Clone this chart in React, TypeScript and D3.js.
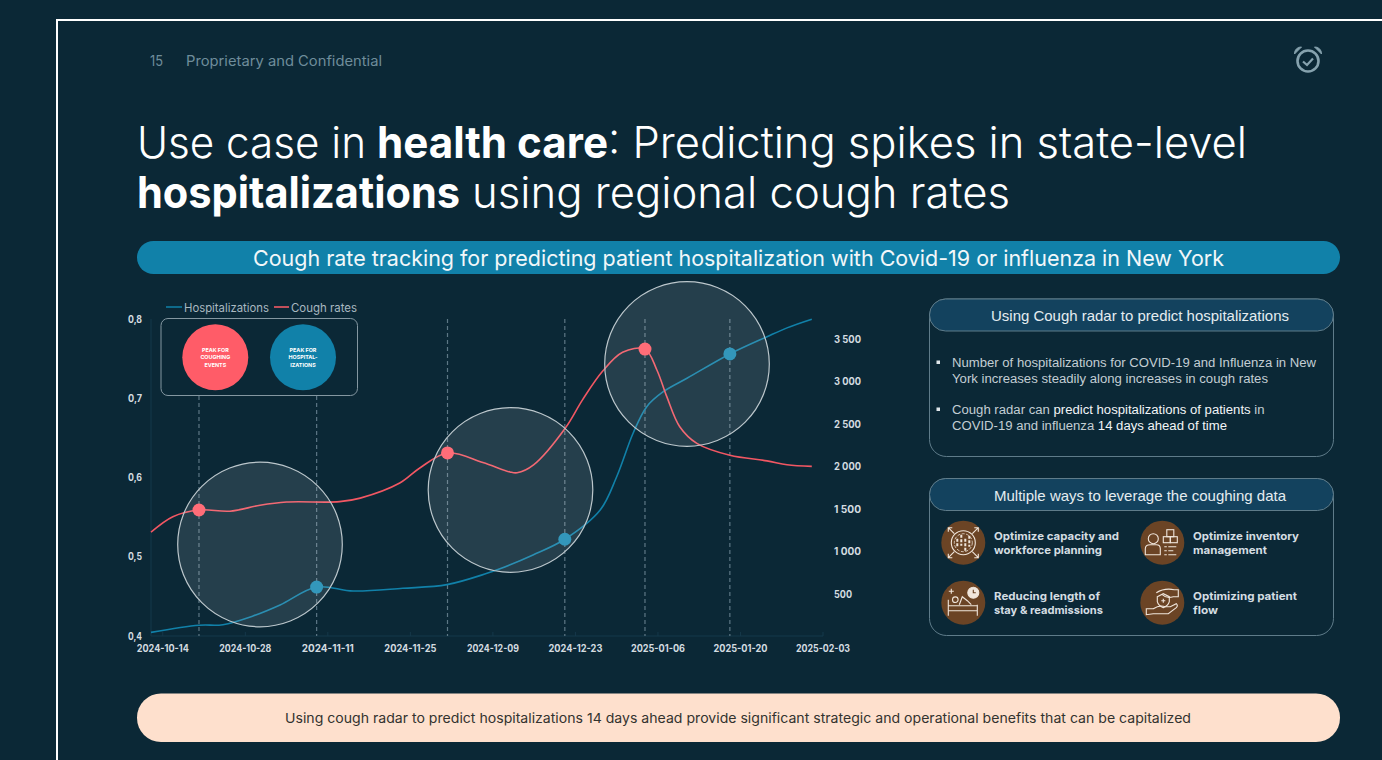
import React from "react";
import * as d3 from "d3";

const START = Date.UTC(2024, 9, 12);
const END = Date.UTC(2025, 1, 3);
const dayToDate = (d: number) => new Date(START + d * 864e5);

const coughDays = [0, 3.7, 8.14, 13.4, 18.5, 23, 32, 35.5, 42.2, 45.6, 50.3, 56.3, 60.9, 62.1, 64.9, 70.3, 73.2, 76.6, 80, 83.8, 85.8, 87.5, 89.7, 92.6, 98.2, 104.5, 107.9, 112.1];
const coughValues = [0.531, 0.5506, 0.559, 0.5575, 0.565, 0.569, 0.5695, 0.574, 0.593, 0.612, 0.631, 0.619, 0.607, 0.606, 0.616, 0.6625, 0.698, 0.734, 0.758, 0.762, 0.736, 0.702, 0.664, 0.643, 0.628, 0.621, 0.616, 0.614];
const hospDays = [0, 8.14, 12.2, 17.3, 21.9, 28.1, 34.3, 42.7, 50.2, 57, 59.2, 64.8, 70.2, 76.2, 79, 81.8, 84.1, 86.9, 91, 98.2, 104.5, 107.9, 112.1];
const hospValues = [43, 126, 133, 235, 365, 576, 529, 561, 604, 737, 790, 953, 1138, 1482, 1874, 2388, 2698, 2874, 3035, 3318, 3521, 3625, 3726];

const coughPeakDays = [8.14, 50.3, 83.8];
const hospPeakDays = [28.1, 70.2, 98.2];
const xTickDays = [2, 16, 30, 44, 58, 72, 86, 100, 114];
const leftTicks = [0.4, 0.5, 0.6, 0.7, 0.8];
const rightTicks = [500, 1000, 1500, 2000, 2500, 3000, 3500];

const benefitLines = [
  ["Optimize capacity and", "workforce planning"],
  ["Optimize inventory", "management"],
  ["Reducing length of", "stay & readmissions"],
  ["Optimizing patient", "flow"],
];

const BG = "#0b2836";
const RED = "#ff5c68";
const BLUE = "#1181a9";
const GEO = "Inter, sans-serif";
const ARIAL = "'Liberation Sans', Arial, sans-serif";

const x = d3.scaleUtc().domain([new Date(START), new Date(END)]).range([151, 823]);
const yL = d3.scaleLinear().domain([0.4, 0.8]).range([636, 319]);
const yR = d3.scaleLinear().domain([0, 3500]).range([636, 338.5]);

const smooth = d3.curveCatmullRom.alpha(0.5);
const coughLine = d3.line<number>().x((d) => x(dayToDate(d))).y((_, i) => yL(coughValues[i])).curve(smooth);
const hospLine = d3.line<number>().x((d) => x(dayToDate(d))).y((_, i) => yR(hospValues[i])).curve(smooth);

const dateFmt = d3.utcFormat("%Y-%m-%d");
const rightFmt = (v: number) => (v >= 1000 ? `${Math.floor(v / 1000)} ${String(v % 1000).padStart(3, "0")}` : `${v}`);

function T({ x, y, len, size, fill = "#fff", weight = 400, family = GEO, anchor, children }: any) {
  return (
    <text x={x} y={y} fontSize={size} fill={fill} fontWeight={weight} fontFamily={family} textAnchor={anchor}
      textLength={len} lengthAdjust={len ? "spacingAndGlyphs" : undefined}>
      {children}
    </text>
  );
}

function Clock({ cx, cy }: any) {
  const c = "#86a2ae";
  return (
    <g transform={`translate(${cx},${cy})`} fill="none" stroke={c}>
      <circle cy={1} r={10.5} strokeWidth={2.6} />
      <path d="M-5,1.5 L-1,5 L5,-1.5" strokeWidth={2.2} />
      <path d="M-13.5,-6 A6.5,6.5 0 0 1 -6.5,-13 Z" fill={c} stroke={c} strokeWidth={1} />
      <path d="M13.5,-6 A6.5,6.5 0 0 0 6.5,-13 Z" fill={c} stroke={c} strokeWidth={1} />
    </g>
  );
}

function IconBase({ cx, cy, children }: any) {
  return (
    <g transform={`translate(${cx},${cy})`}>
      <circle r={22} fill="#6b4425" />
      <g fill="none" stroke="#f0e6dc" strokeWidth={1.1}>{children}</g>
    </g>
  );
}

function Icon0() {
  return (
    <>
      <circle r={12} />
      <circle r={9} strokeDasharray="3 1.5" strokeWidth={0.8} />
      <path d="M-9,-9 L-15,-15 M-15,-11 L-15,-15 L-11,-15 M9,-9 L15,-15 M11,-15 L15,-15 L15,-11 M-9,9 L-15,15 M-15,11 L-15,15 L-11,15 M9,9 L15,15 M11,15 L15,15 L15,11" />
      <path d="M-6,-4 V5 M-2,-8 V3 M2,-4 V8 M6,-7 V4" strokeWidth={2} strokeDasharray="3 1.5" />
    </>
  );
}
function Icon1() {
  return (
    <>
      <circle cx={-9} cy={-4} r={5} />
      <path d="M-17,12 V6 Q-17,2 -12,2 H-6 Q-2,2 -2,6 V12 Z" />
      <rect x={1} y={-6} width={7} height={6} />
      <rect x={8} y={-6} width={7} height={6} />
      <rect x={4.5} y={-13} width={7} height={7} />
      <path d="M2,4 H14 M2,8 H11 M2,12 H14" strokeDasharray="2.5 1.5 9" />
    </>
  );
}
function Icon2() {
  return (
    <>
      <path d="M-15,-3 V13 M14,2 V13 M-15,8 H14 M-15,3 H14" />
      <circle cx={-8} cy={-3} r={2.8} />
      <path d="M-4,2 L-1,-6 L4,-2 L8,2" />
      <circle cx={10} cy={-10} r={5.5} fill="#f0e6dc" />
      <path d="M10,-13 V-10 H12.5" stroke="#6b4425" />
      <path d="M-12,-14 V-9 M-14.5,-11.5 H-9.5" />
    </>
  );
}
function Icon3() {
  return (
    <>
      <path d="M-6,-10 Q2,-15 12,-13 H16 V-6 H11 Q4,-4 0,-8" />
      <path d="M-16,6 H-9 Q-3,2 3,4 H8 L14,1 Q16,3 14,5 L6,11 H-9 L-16,12 Z" />
      <path d="M-5,-6 L1,-9 L7,-6 V-1 Q6,3 1,5 Q-4,3 -5,-1 Z" />
      <path d="M-1,-2 H3 M1,-4 V0" />
    </>
  );
}
const icons = [Icon0, Icon1, Icon2, Icon3];

function Panel({ y, h, title, titleX, titleLen }: any) {
  const X = 929.5, W = 404;
  return (
    <g>
      <rect x={X} y={y} width={W} height={h} rx={17} fill="none" stroke="#5f7c8a" strokeWidth={1} />
      <rect x={X} y={y} width={W} height={32} rx={16} fill="#13425e" stroke="#5f7c8a" strokeWidth={1} />
      <T x={titleX} y={y + 22} len={titleLen} size={14.5} family={ARIAL} fill="#e4ecf0">{title}</T>
    </g>
  );
}

export default function App() {
  const axisC = "#15384a";
  const textC = "#d4dce0";
  const dashC = "#5d7785";
  const circles = [[260, 544.5], [510.5, 490], [687, 364]];
  const cIdx = (d: number) => coughDays.indexOf(d);
  const hIdx = (d: number) => hospDays.indexOf(d);
  const iconPos = [[963.3, 542.7], [1162.3, 542.7], [963.3, 602.7], [1162.3, 602.7]];
  const textPos = [[994, 540], [1193, 540], [994, 600], [1193, 600]];
  const textLens = [[125, 108], [106, 74], [106, 109], [104, 25]];
  const peaks = [...coughPeakDays, ...hospPeakDays];
  return (
    <svg width={1382} height={760} viewBox="0 0 1382 760" style={{ position: "fixed", left: 0, top: 0, display: "block" }}>
      <rect width={1382} height={760} fill={BG} />
      <rect x={57} y={20} width={1400} height={800} fill="none" stroke="#fff" strokeWidth={2} />

      <T x={150} y={66} len={13} size={14} fill="#6f8d9b">15</T>
      <T x={186} y={66} len={196} size={14} fill="#6f8d9b">Proprietary and Confidential</T>
      <Clock cx={1308} cy={60} />

      <T x={137} y={158} len={229} size={44} weight={300}>Use case in</T>
      <T x={377} y={158} len={231} size={44} weight={700}>health care</T>
      <T x={608} y={158} len={639} size={44} weight={300}>: Predicting spikes in state-level</T>
      <T x={137} y={208} len={323} size={44} weight={700}>hospitalizations</T>
      <T x={472} y={208} len={538} size={44} weight={300}>using regional cough rates</T>

      <rect x={137} y={241} width={1203} height={33} rx={16.5} fill={BLUE} />
      <T x={253} y={266} len={971} size={22} fill="#f2f7f9">Cough rate tracking for predicting patient hospitalization with Covid-19 or influenza in New York</T>

      {/* chart */}
      <g>
        <line x1={151} x2={151} y1={319} y2={636} stroke={axisC} />
        <line x1={151} x2={823} y1={636} y2={636} stroke={axisC} />
        {xTickDays.map((d) => (
          <g key={d}>
            <line x1={x(dayToDate(d))} x2={x(dayToDate(d))} y1={632} y2={636} stroke={axisC} />
            <T x={x(dayToDate(d))} y={652} anchor="middle" len={d >= 72 ? 54 : 52} size={10} weight={700} fill={textC}>
              {dateFmt(dayToDate(d))}
            </T>
          </g>
        ))}
        {leftTicks.map((v) => (
          <T key={v} x={128} y={yL(v) + 3.5} len={14} size={10} weight={700} fill={textC}>{String(v).replace(".", ",")}</T>
        ))}
        {rightTicks.map((v) => (
          <T key={v} x={834} y={yR(v) + 4} len={v >= 1000 ? 27 : 18} size={10} weight={700} fill={textC}>{rightFmt(v)}</T>
        ))}

        {peaks.map((d, i) => (
          <line key={i} x1={x(dayToDate(d))} x2={x(dayToDate(d))} y1={d < 40 ? 396 : 319} y2={636}
            stroke={dashC} strokeWidth={1.2} strokeDasharray="4 3" />
        ))}

        <path d={hospLine(hospDays)!} fill="none" stroke={BLUE} strokeWidth={1.6} />
        <path d={coughLine(coughDays)!} fill="none" stroke="#f25763" strokeWidth={1.6} />

        {coughPeakDays.map((d) => (
          <circle key={d} cx={x(dayToDate(d))} cy={yL(coughValues[cIdx(d)])} r={6.5} fill="#ff5c68" />
        ))}
        {hospPeakDays.map((d) => (
          <circle key={d} cx={x(dayToDate(d))} cy={yR(hospValues[hIdx(d)])} r={6.5} fill="#1a8bb3" />
        ))}

        {circles.map(([cx, cy], i) => (
          <circle key={i} cx={cx} cy={cy} r={82.3} fill="#fff" fillOpacity={0.11} stroke="#bcc7cc" strokeWidth={1.2} />
        ))}

        <line x1={166} x2={182} y1={307} y2={307} stroke={BLUE} strokeWidth={1.5} />
        <T x={184} y={311.5} len={85} size={11.5} fill="#a9b8c0">Hospitalizations</T>
        <line x1={274} x2={289} y1={307} y2={307} stroke={RED} strokeWidth={1.5} />
        <T x={291} y={311.5} len={66} size={11.5} fill="#a9b8c0">Cough rates</T>

        <rect x={161} y={318.5} width={196.5} height={77} rx={7} fill={BG} stroke="#8497a1" strokeWidth={1} />
        <circle cx={215.3} cy={357.3} r={33} fill={RED} />
        <circle cx={303} cy={357.3} r={33} fill={BLUE} />
        {["PEAK FOR", "COUGHING", "EVENTS"].map((s, i) => (
          <T key={s} x={215.3} y={352 + i * 7.3} anchor="middle" size={5.4} weight={700} fill="#fff">{s}</T>
        ))}
        {["PEAK FOR", "HOSPITAL-", "IZATIONS"].map((s, i) => (
          <T key={s} x={303} y={352 + i * 7.3} anchor="middle" size={5.4} weight={700} fill="#fff">{s}</T>
        ))}
      </g>

      <Panel y={299} h={157.5} title="Using Cough radar to predict hospitalizations" titleX={991} titleLen={298} />
      <rect x={936.5} y={360.5} width={3.5} height={3.5} fill="#dfe6ea" />
      <rect x={936.5} y={407.5} width={3.5} height={3.5} fill="#dfe6ea" />
      <T x={952} y={367} len={364} size={12.5} family={ARIAL} fill="#c3ced4">Number of hospitalizations for COVID-19 and Influenza in New</T>
      <T x={952} y={383} len={316} size={12.5} family={ARIAL} fill="#c3ced4">York increases steadily along increases in cough rates</T>
      <T x={952} y={414} len={312.5} size={12.5} family={ARIAL} fill="#c3ced4">
        Cough radar can <tspan fill="#f2f5f7">predict hospitalizations of patients</tspan> in
      </T>
      <T x={952} y={430} len={275} size={12.5} family={ARIAL} fill="#c3ced4">
        COVID-19 and influenza <tspan fill="#f2f5f7">14 days ahead of time</tspan>
      </T>

      <Panel y={478.5} h={157} title="Multiple ways to leverage the coughing data" titleX={994} titleLen={292} />
      {benefitLines.map((lines, i) => {
        const Ico = icons[i];
        return (
          <g key={i}>
            <IconBase cx={iconPos[i][0]} cy={iconPos[i][1]}><Ico /></IconBase>
            {lines.map((s, j) => (
              <T key={s} x={textPos[i][0]} y={textPos[i][1] + j * 14} len={textLens[i][j]} size={11} weight={700} fill="#d4dde2">{s}</T>
            ))}
          </g>
        );
      })}

      <rect x={137} y={693.5} width={1203} height={48.5} rx={24} fill="#fee0cd" />
      <T x={285} y={723} len={906} size={13.5} fill="#33332f">Using cough radar to predict hospitalizations 14 days ahead provide significant strategic and operational benefits that can be capitalized</T>
    </svg>
  );
}
